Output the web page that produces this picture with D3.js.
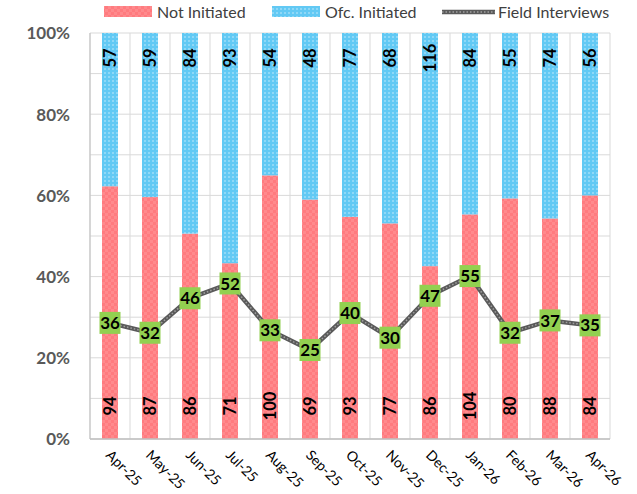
<!DOCTYPE html>
<html><head><meta charset="utf-8">
<script src="https://cdn.jsdelivr.net/npm/d3@7"></script>
<style>body{margin:0;background:#fff}svg{display:block}</style>
</head><body>
<svg id="c" width="637" height="494"></svg>
<script>
const months = ["Apr-25","May-25","Jun-25","Jul-25","Aug-25","Sep-25","Oct-25","Nov-25","Dec-25","Jan-26","Feb-26","Mar-26","Apr-26"];
const notInitiated = [94,87,86,71,100,69,93,77,86,104,80,88,84];
const ofcInitiated = [57,59,84,93,54,48,77,68,116,84,55,74,56];
const fieldInterviews = [36,32,46,52,33,25,40,30,47,55,32,37,35];
const yTicks = [0,0.2,0.4,0.6,0.8,1];
const seriesNames = ["Not Initiated","Ofc. Initiated","Field Interviews"];

const svg = d3.select("#c");
const font = "Lato, 'Open Sans', sans-serif";
const L = 90, R = 610, T = 33, B = 439;

const defs = svg.append("defs");
const pp = defs.append("pattern").attr("id","pink").attr("width",6).attr("height",6).attr("patternUnits","userSpaceOnUse");
pp.append("rect").attr("width",6).attr("height",6).attr("fill","#FF7B7F");
pp.append("rect").attr("width",3).attr("height",3).attr("fill","#FF8A8D");
pp.append("rect").attr("x",3).attr("y",3).attr("width",3).attr("height",3).attr("fill","#FF8A8D");
const bp = defs.append("pattern").attr("id","blue").attr("width",4).attr("height",4).attr("patternUnits","userSpaceOnUse");
bp.append("rect").attr("width",4).attr("height",4).attr("fill","#62C9F4");
bp.append("rect").attr("width",2).attr("height",2).attr("fill","#8FD8F7");

const x = d3.scaleBand().domain(months).range([L,R]).paddingInner(0).paddingOuter(0);
const y = d3.scaleLinear().domain([0,1]).range([B,T]);
const y2 = d3.scaleLinear().domain([-11.1,153.6]).range([B,T]);
const bw = 16;

// gridlines
const g = svg.append("g");
g.selectAll(".hg").data(d3.range(0,1.0001,0.1)).join("line")
  .attr("x1",L).attr("x2",R).attr("y1",d=>y(d)).attr("y2",d=>y(d))
  .attr("stroke","#D9D9D9").attr("stroke-width",1);
g.selectAll(".vg").data(months.map((m,i)=>i).concat([months.length])).join("line")
  .attr("x1",i=>L+i*x.bandwidth()).attr("x2",i=>L+i*x.bandwidth())
  .attr("y1",T).attr("y2",B).attr("stroke","#D9D9D9").attr("stroke-width",1);

// bars
const totals = notInitiated.map((v,i)=>v+ofcInitiated[i]);
const bars = svg.append("g");
bars.selectAll(".p").data(months).join("rect")
  .attr("x",(m)=>x(m)+x.bandwidth()/2-bw/2).attr("width",bw)
  .attr("y",(m,i)=>y(notInitiated[i]/totals[i])).attr("height",(m,i)=>B-y(notInitiated[i]/totals[i]))
  .attr("fill","url(#pink)");
bars.selectAll(".b").data(months).join("rect")
  .attr("x",(m)=>x(m)+x.bandwidth()/2-bw/2).attr("width",bw)
  .attr("y",y(1)).attr("height",(m,i)=>y(notInitiated[i]/totals[i])-y(1))
  .attr("fill","url(#blue)");

// axes lines
svg.append("line").attr("x1",L).attr("x2",R).attr("y1",B).attr("y2",B).attr("stroke","#BFBFBF").attr("stroke-width",1.5);
svg.append("line").attr("x1",L).attr("x2",L).attr("y1",T).attr("y2",B).attr("stroke","#BFBFBF").attr("stroke-width",1);

// y axis labels
const yAxis = d3.axisLeft(y).tickValues(yTicks).tickFormat(d3.format(".0%")).tickSize(0).tickPadding(20);
const ya = svg.append("g").attr("transform",`translate(${L},0)`).call(yAxis);
ya.select(".domain").remove();
ya.selectAll("text").attr("font-family",font).attr("font-size",17).attr("font-weight","bold").attr("fill","#595959").attr("dy","0.35em");

// x axis labels
const xAxis = d3.axisBottom(x).tickSize(0).tickPadding(0);
const xa = svg.append("g").attr("transform",`translate(0,${B})`).call(xAxis);
xa.select(".domain").remove();
xa.selectAll("text").attr("font-family",font).attr("font-size",14).attr("fill","#000")
  .attr("text-anchor","start").attr("dy",0).attr("y",0)
  .attr("transform","translate(-5,17) rotate(45)");

// bar labels
const lab = svg.append("g").attr("font-family",font).attr("font-weight","bold").attr("font-size",16.5).attr("fill","#000");
lab.selectAll(".nl").data(months).join("text")
  .attr("transform",(m)=>`translate(${x(m)+x.bandwidth()/2+6},406) rotate(-90)`)
  .attr("text-anchor","middle").text((m,i)=>notInitiated[i]);
lab.selectAll(".ol").data(months).join("text")
  .attr("transform",(m)=>`translate(${x(m)+x.bandwidth()/2+6},58) rotate(-90)`)
  .attr("text-anchor","middle").text((m,i)=>ofcInitiated[i]);

// line
const line = d3.line().x((d,i)=>x(months[i])+x.bandwidth()/2).y(d=>y2(d));
svg.append("path").datum(fieldInterviews).attr("d",line).attr("fill","none").attr("stroke","#5a5a5a").attr("stroke-width",4.5);
svg.append("path").datum(fieldInterviews).attr("d",line).attr("fill","none").attr("stroke","#a0a0a0").attr("stroke-width",1.5).attr("stroke-dasharray","1.5,2");

const fl = svg.append("g");
fieldInterviews.forEach((v,i)=>{
  const cx = x(months[i])+x.bandwidth()/2, cy = y2(v);
  fl.append("rect").attr("x",cx-10.5).attr("y",cy-11).attr("width",21).attr("height",22).attr("fill","#92D050");
  fl.append("text").attr("x",cx).attr("y",cy).attr("dy","0.36em").attr("text-anchor","middle")
    .attr("font-family",font).attr("font-weight","bold").attr("font-size",17).attr("fill","#000").text(v);
});

// legend
const lg = svg.append("g").attr("font-family",font).attr("font-size",16).attr("fill","#404040");
lg.append("rect").attr("x",104).attr("y",6).attr("width",48).attr("height",11).attr("fill","url(#pink)");
lg.append("text").attr("x",157).attr("y",12).attr("dy","0.35em").text(seriesNames[0]);
lg.append("rect").attr("x",272).attr("y",6).attr("width",48).attr("height",11).attr("fill","url(#blue)");
lg.append("text").attr("x",325).attr("y",12).attr("dy","0.35em").text(seriesNames[1]);
lg.append("line").attr("x1",442).attr("x2",495).attr("y1",12).attr("y2",12).attr("stroke","#5a5a5a").attr("stroke-width",4.5);
lg.append("line").attr("x1",442).attr("x2",495).attr("y1",12).attr("y2",12).attr("stroke","#a0a0a0").attr("stroke-width",1.5).attr("stroke-dasharray","1.5,2");
lg.append("text").attr("x",498).attr("y",12).attr("dy","0.35em").text(seriesNames[2]);
</script>
</body></html>
